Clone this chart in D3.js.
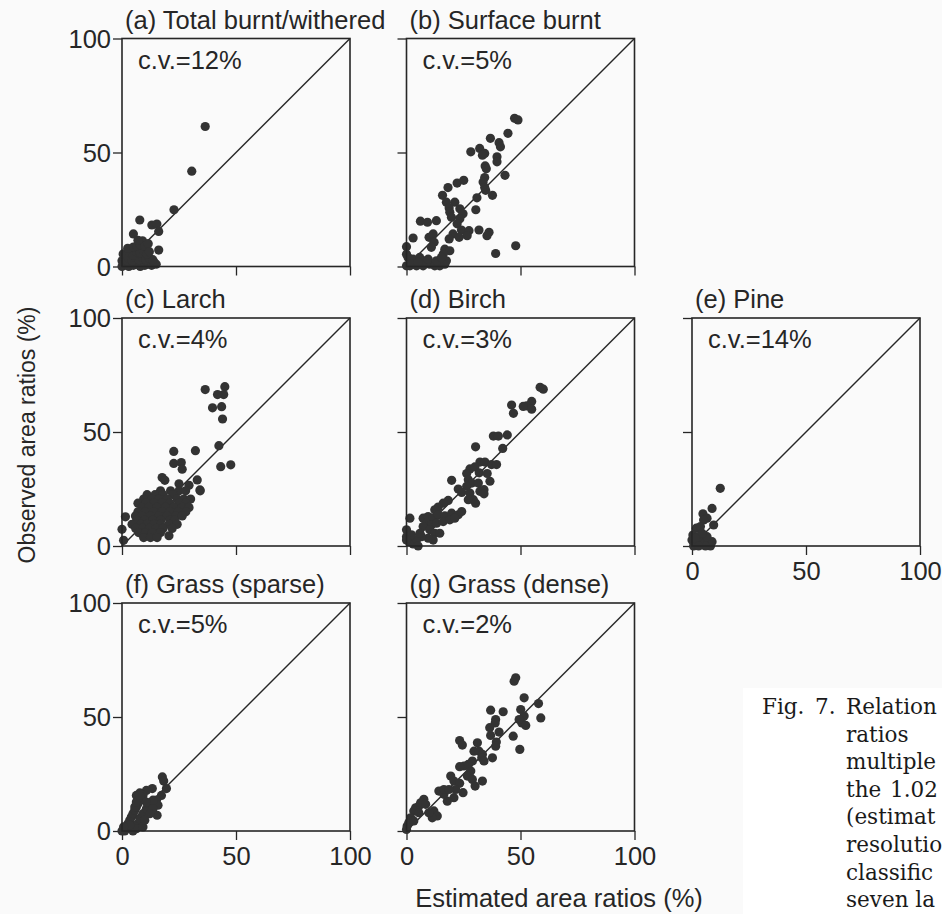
<!DOCTYPE html>
<html>
<head>
<meta charset="utf-8">
<script src="https://cdn.jsdelivr.net/npm/d3@7"></script>
<style>
  html, body { margin: 0; padding: 0; background: #fbfbfb; }
  svg { display: block; }
</style>
</head>
<body>
<svg id="chart" width="942" height="914"></svg>
<script>
// ---------------- DATA ----------------
const tickValues = [0, 50, 100];
const tickLabels = ["0", "50", "100"];
const yAxisTitle = "Observed area ratios (%)";
const xAxisTitle = "Estimated area ratios (%)";

const panelTitles = ["(a) Total burnt/withered", "(b) Surface burnt", "(c) Larch", "(d) Birch", "(e) Pine", "(f) Grass (sparse)", "(g) Grass (dense)"];
const cvLabels = ["c.v.=12%", "c.v.=5%", "c.v.=4%", "c.v.=3%", "c.v.=14%", "c.v.=5%", "c.v.=2%"];

// [estimated, observed] pairs
const totalBurnt = [
  [36.5,61.4],[30.6,41.8],[22.8,24.9],[7.8,20.4],[13.1,18.2],[15.3,18.6],[16.1,15.4],[5,14.3],[16.1,7.2],[9,11.3],
  [0,0],[1,0.5],[2,1],[3,0],[4,1.5],[5,0.5],[6,2],[7,1],[8,0],[9,1.5],[10,0.5],[11,2],[12,1],[13,0.5],[14,2],[15,1],
  [0,2.5],[1.5,3],[3,3.5],[4.5,2.5],[6,4],[7.5,3],[9,4],[10.5,3],[12,3.5],[13.5,3],
  [0.5,5.5],[2,5],[3.5,6],[5,5],[6.5,6.5],[8,6],[9.5,7],[11,5.5],[2.5,8],[5,8.5],[6.5,9],[8,9.5],[10,9],[11.5,10],[7,11.5],[12,6.5]
];
const surfaceBurnt = [
  [47.4,65],[48.9,64.3],[44.5,58.4],[36.8,56.2],[40.6,54.3],[41.2,52.5],[32.1,51.8],[28.2,50.3],[34.3,49.6],[33.3,48.8],
  [39.7,48.1],[39.7,45.9],[34.5,44.1],[35,42.9],[43.2,40],[34.3,39],[33.6,37.1],[22.2,36.6],[25.1,37.8],[18.2,34.6],
  [34.3,34.6],[34.7,33.4],[37.7,31.2],[30.9,30.1],[15.8,31.2],[17.5,28.2],[21.2,28.2],[18.7,25.7],[19,23.8],[30.4,24.9],
  [23.4,25.3],[24.8,23.1],[19.7,21.6],[23.4,20.9],[22.2,18.7],[6.1,19.9],[9.2,19.4],[13.1,20.1],[24.1,16],[27.4,15.7],
  [31.8,16],[36.2,15],[35.3,13.5],[26.6,13.5],[20.4,14.3],[18.7,12.1],[23.1,12.8],[2.9,12.5],[9.9,12.8],[11.7,14.3],
  [12.1,10.6],[10.9,8.4],[47.9,9.1],[39.1,5.7],[16.8,7.6],[19,6.9],[16.1,5.4],[0,8.7],[0,5.4],
  [0.7,4],[2.9,3.2],[5.8,4],[8,2.5],[10.2,1],[12.4,0.3],[14.6,0.3],[16.8,1],[17.5,2.5],[4.4,0.3],[1.5,0.3],[7.3,0.3],
  [9.5,3.2],[13.1,2.5],[0,0.3],[2.2,1],[5.1,1.8],[15.3,4]
];
const larch = [
  [36.5,68.6],[45.1,69.9],[44.6,66.4],[41.9,66.4],[39.7,60.6],[43.7,61.1],[44.1,55.7],[42.5,44],[43.3,34.8],[47.7,35.6],
  [22.7,41.5],[32.2,41.8],[22.7,36.2],[26,36.6],[26.4,33.7],[33,29],[34.2,24.6],[17.6,30],[18.8,28.8],[25,27.3],[29.4,26.6],
  [16.9,24.2],[21.3,24.2],[25,24.2],[27.9,24.2],[34.3,24.2],
  [11,22.5],[14.5,22.5],[18,22.5],[22.5,22.5],
  [9.5,20.6],[13.2,20.6],[16.1,20.6],[19.8,20.6],[24.2,20.6],[27.1,20.6],[30.1,20.6],
  [7,18.8],[10.5,18.8],[14,18.8],[17.5,18.8],[21,18.8],[25,18.8],[28,18.8],
  [8.8,16.9],[11.7,16.9],[15.4,16.9],[19.1,16.9],[22.7,16.9],[26.4,16.9],[29.4,16.9],
  [7,15],[10,15],[13.8,15],[17.5,15],[21,15],[24.5,15],[28,15],
  [5.9,13.2],[8.8,13.2],[12.5,13.2],[16.1,13.2],[19.8,13.2],[23.5,13.2],[26.4,13.2],
  [6.5,11.3],[10,11.3],[13.5,11.3],[17,11.3],[21,11.3],[23,11.3],
  [4.4,9.5],[8.1,9.5],[11,9.5],[14,9.5],[16.9,9.5],[20.6,9.5],[24.2,9.5],
  [6,7.7],[9,7.7],[12,7.7],[15,7.7],[18,7.7],[22,7.7],
  [7.3,5.9],[10.3,5.9],[13.2,5.9],[16.9,5.9],[20.6,4.5],
  [9.5,3.7],[12.5,3.7],[15.4,3.7],
  [1.5,12.8],[0,7.3],[0.7,2.5]
];
const birch = [
  [58.6,69.6],[60,68.8],[54.9,63.4],[52.7,61.5],[51.2,61.2],[54.9,60],[46.1,61.8],[46.9,58.2],[38.1,48.2],[40.3,48.2],
  [44.2,48.7],[30.3,43.5],[42.2,42.8],[32.2,36.8],[34.4,36.8],[37.3,35.7],[39.5,35.7],[27.8,33.8],[30,34.7],[26.4,31.8],
  [31.9,32.1],[35.4,31.8],[19.8,28.8],[27.1,29.1],[28.6,27.6],[26.4,26.2],[31.5,27.6],[36.6,28.4],[22.7,25],[24.2,23.5],
  [27.8,23.2],[32.2,24],[34,24.7],[29.3,20.3],[27.1,20.3],[30.3,18.8],[34,22.9],[18.3,20],[16.1,18.8],[13.9,17.1],[12.4,15.9],
  [7.3,12.2],[9.5,12.9],[11.7,12.2],[13.9,13.7],[16.8,13.2],[19.8,14.4],[22.7,13.7],[24.2,15.1],[8.8,10],[11,9.3],
  [13.2,10],[16.1,10.7],[19,11.5],[21.2,12.2],[7.3,8.5],[10.2,7.1],[12.4,5.6],[14.6,5.6],[11.7,2.6],[9.5,3.4],[6.6,4.1],
  [1.5,12.2],[0,7.1],[0,4.1],[1.2,1.9],[2.9,0.9],[4.4,2.6],[5.1,0],[2.2,4.9],[0,2.6],[5.9,5.6]
];
const pine = [
  [12.4,25.3],[8.8,16.5],[4.8,14.1],[6.6,12.2],[5.1,11.4],[9.5,9.2],[1.9,7.8],[3.7,8.5],
  [0,2.6],[0.7,0],[2.2,1.2],[3.7,1.9],[5.1,2.6],[7.3,1.2],[8.8,1.9],[0.4,4.8],[2.9,4.1],[6.6,4.1],[4.4,5.6],[8.1,0],
  [1.5,3.4],[5.9,0],[2.9,0]
];
const grassSparse = [
  [17.7,23.7],[18.3,21.9],[19.5,18.6],[13.3,18.6],[10.7,17.8],[7.8,16.7],[6.3,15.6],[17.3,15.6],[15.1,13.5],[15.8,11.3],[15.4,6.9],
  [1.9,1],[2.6,3.2],[3.4,4.7],[4.1,6.1],[4.8,7.6],[5.6,9.1],[6.3,10.5],[7,12],[7.8,13.5],[8.5,14.6],[9.2,15.6],
  [4.1,1.8],[5.6,2.5],[7,3.2],[7.8,5.4],[9.2,7.6],[10.7,9.8],[12.2,12],[13.6,13.5],[1.2,0],[4.8,0],[6.3,1],[9.2,1.8],
  [3.4,2.5],[5.6,10.5],[6.3,12.7],[7.8,15.6],[10.7,12.7],[13.6,9.8],[12.2,7.6],[10,4.7],[0,0],[0.7,1.8]
];
const grassDense = [
  [47.2,65.7],[47.9,67.2],[51.6,58.4],[57.9,55.9],[58.9,49.6],[36.9,53],[42.4,52.3],[50.1,53.3],[51.6,50.4],[50.6,47.4],
  [52.3,46.3],[49.4,48.9],[39.1,48.9],[38.9,47.4],[36.5,45.3],[40.6,43.4],[36.9,41.9],[46.8,41.6],[49.7,35.8],[23.3,39.7],
  [24.5,37.7],[39.4,39],[39.1,37.2],[31.1,38.7],[29.6,35],[31.8,35],[33.3,33.6],[33,32.1],[37.7,32.1],[34,30.7],
  [28.9,30.7],[27.1,29.2],[25.2,28.5],[23.3,28.2],[28.2,26.3],[26.7,24.1],[28.9,22.6],[33.3,21.9],[30.1,19.7],[19.4,24.1],
  [20.8,21.9],[23.3,20.9],[24.8,16.8],[20.8,14.6],[17.9,13.1],[16.4,16.1],[14.2,17.5],[16.4,18.2],[21.6,18.2],[18.6,18.2],
  [12,8.8],[13.5,6.6],[11.3,5.8],[9.8,8],[7.6,13.9],[5.4,10.9],[4,10.2],[3.2,8.8],[5.4,8],[1.8,5.8],[0.3,2.2],[0,0.7],
  [1,3.6],[3.2,4.4],[6.2,12.4],[8.4,11.7]
];

// caption as visible in the (cropped) reference
const captionLead = ["Fig.", "7."];
const captionLines = ["Relation", "ratios", "multiple", "the 1.02", "(estimat", "resolutio", "classific", "seven la"];

// ---------------- LAYOUT ----------------
const panelData = [totalBurnt, surfaceBurnt, larch, birch, pine, grassSparse, grassDense];
const panelGrid = [[0,0],[1,0],[0,1],[1,1],[2,1],[0,2],[1,2]]; // [col,row]
const colX = [122, 406.5, 692];
const rowY = [38.5, 318, 603];
const size = 228;
const showYLabels = [true, false, true, false, false, true, false];
const showXLabels = [false, false, false, false, true, true, true];

const ink = "#262626";
const dotColor = "#333333";
const sans = "'Liberation Sans', Arial, Helvetica, sans-serif";

const svg = d3.select("#chart");
svg.append("rect").attr("x", 0).attr("y", 0).attr("width", 942).attr("height", 914).attr("fill", "#fafafa");
svg.append("rect").attr("x", 743).attr("y", 688).attr("width", 199).attr("height", 226).attr("fill", "#ffffff");

panelData.forEach((pts, i) => {
  const [c, r] = panelGrid[i];
  const g = svg.append("g").attr("transform", `translate(${colX[c]},${rowY[r]})`);
  const x = d3.scaleLinear().domain([0, 100]).range([0, size]);
  const y = d3.scaleLinear().domain([0, 100]).range([size, 0]);

  const yAx = d3.axisLeft(y).tickValues(tickValues).tickSize(9)
    .tickFormat((d, k) => showYLabels[i] ? tickLabels[k] : "");
  const xAx = d3.axisBottom(x).tickValues(tickValues).tickSize(9)
    .tickFormat((d, k) => showXLabels[i] ? tickLabels[k] : "");
  const ya = g.append("g").call(yAx);
  const xa = g.append("g").attr("transform", `translate(0,${size})`).call(xAx);
  [ya, xa].forEach(a => {
    a.select(".domain").remove();
    a.selectAll(".tick line").attr("stroke", ink).attr("stroke-width", 1.3);
    a.selectAll(".tick text").attr("fill", ink).attr("font-family", sans).attr("font-size", 25.5);
  });
  ya.selectAll(".tick text").attr("x", -11).attr("dy", "0.35em");
  xa.selectAll(".tick text").attr("y", 16).attr("dy", "0.71em");

  g.append("line")
    .attr("x1", x(0)).attr("y1", y(0)).attr("x2", x(100)).attr("y2", y(100))
    .attr("stroke", ink).attr("stroke-width", 1.4);

  g.append("g").selectAll("circle").data(pts).join("circle")
    .attr("cx", d => x(d[0])).attr("cy", d => y(d[1]))
    .attr("r", 4.6).attr("fill", dotColor);

  g.append("rect").attr("x", 0).attr("y", 0).attr("width", size).attr("height", size)
    .attr("fill", "none").attr("stroke", ink).attr("stroke-width", 1.6);

  g.append("text").attr("x", 3).attr("y", -10).attr("fill", ink)
    .attr("font-family", sans).attr("font-size", 25.5).text(panelTitles[i]);
  g.append("text").attr("x", 16).attr("y", 30).attr("fill", ink)
    .attr("font-family", sans).attr("font-size", 25.5).text(cvLabels[i]);
});

svg.append("text")
  .attr("transform", "translate(35,435) rotate(-90)")
  .attr("text-anchor", "middle").attr("fill", ink)
  .attr("font-family", sans).attr("font-size", 23).text(yAxisTitle);
svg.append("text")
  .attr("x", 559).attr("y", 907).attr("text-anchor", "middle").attr("fill", ink)
  .attr("font-family", sans).attr("font-size", 25.5).text(xAxisTitle);

const serif = "'DejaVu Serif', 'Liberation Serif', serif";
const cap = svg.append("g").attr("font-family", serif).attr("font-size", 21.5).attr("fill", "#1a1a1a");
cap.append("text").attr("x", 762).attr("y", 714).text(captionLead[0]);
cap.append("text").attr("x", 815).attr("y", 714).text(captionLead[1]);
captionLines.forEach((t, k) => {
  cap.append("text").attr("x", 846).attr("y", 714 + k * 27.6)
    .attr("word-spacing", k === 3 ? 2 : 0).text(t);
});
</script>
</body>
</html>
